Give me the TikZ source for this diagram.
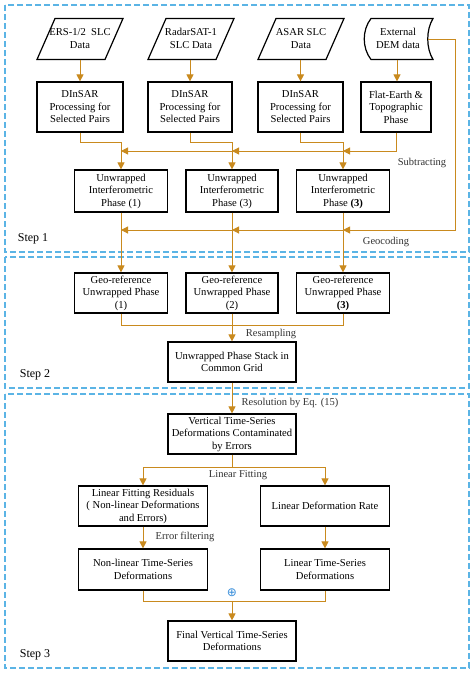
\documentclass[tikz,border=0pt]{standalone}
\usepackage{fontspec}
\setmainfont{Liberation Serif}
\newfontfamily\symfont{DejaVu Sans}
\usetikzlibrary{arrows.meta}
\definecolor{arrc}{HTML}{C98A1E}
\definecolor{dashc}{HTML}{5BB4E5}
\definecolor{plusc}{HTML}{3A8FDB}
\tikzset{
  box/.style={draw=black, line width=1.2pt, fill=white, align=center, inner sep=1pt,
    font=\fontsize{10.6}{12.5}\selectfont},
  plain/.style={align=center, inner sep=1pt, font=\fontsize{10.6}{12.5}\selectfont},
  lab/.style={inner sep=1pt, font=\fontsize{10.5}{12.5}\selectfont, text=black!80},
  steplab/.style={inner sep=1pt, font=\fontsize{12}{14}\selectfont},
  conn/.style={draw=arrc, line width=1pt},
  arr/.style={conn, -{Triangle[length=7pt,width=7pt]}},
  stepframe/.style={draw=dashc, line width=1.5pt, dash pattern=on 6pt off 3pt},
}
\begin{document}
\begin{tikzpicture}[x=1pt,y=-1pt]
\fill[white] (0,0) rectangle (474,673);
\useasboundingbox (0,0) rectangle (474,673);

% step frames
\draw[stepframe] (5,5) rectangle (469,252);
\draw[stepframe] (5,257) rectangle (469,388);
\draw[stepframe] (5,394) rectangle (469,668);
\node[steplab] (st1) at (33,239) {Step 1};
\node[steplab] (st2) at (35,375) {Step 2};
\node[steplab] (st3) at (35,655) {Step 3};

% input parallelograms
\node[plain] (p1) at (80,38.5) {ERS-1/2\ \ SLC\\Data};
\node[plain] (p2) at (191,38.5) {RadarSAT-1\\SLC Data};
\node[plain] (p3) at (301,38.5) {ASAR SLC\\Data};
\draw[black, line width=1.2pt] (55,18.5) -- (123,18.5) -- (105,59.5) -- (37,59.5) -- cycle;
\draw[black, line width=1.2pt] (166,18.5) -- (234,18.5) -- (216,59.5) -- (148,59.5) -- cycle;
\draw[black, line width=1.2pt] (276,18.5) -- (344,18.5) -- (326,59.5) -- (258,59.5) -- cycle;
% stored data (DEM)
\node[plain] (dem) at (398,38.5) {External\\DEM data};
\draw[black, line width=1.2pt] (371,18.5) -- (433,18.5)
   .. controls (426,30) and (426,48) .. (433,59.5) -- (371,59.5)
   .. controls (362,48) and (362,30) .. (371,18.5) -- cycle;
\coordinate (demb) at (397,59.5);
\coordinate (demr) at (428,39);

% DInSAR row
\node[box, minimum width=86pt, minimum height=50pt] (d1) at (80,107) {DInSAR\\Processing for\\Selected Pairs};
\node[box, minimum width=84pt, minimum height=50pt] (d2) at (190,107) {DInSAR\\Processing for\\Selected Pairs};
\node[box, minimum width=85pt, minimum height=50pt] (d3) at (300.5,107) {DInSAR\\Processing for\\Selected Pairs};
\node[box, minimum width=70pt, minimum height=50pt] (d4) at (396,107) {Flat-Earth \&\\Topographic\\Phase};

\coordinate (p1b) at (80,59.5);
\coordinate (p2b) at (190,59.5);
\coordinate (p3b) at (300.5,59.5);
\draw[arr] (p1b) -- (d1.north);
\draw[arr] (p2b) -- (d2.north);
\draw[arr] (p3b) -- (d3.north);
\draw[arr] (demb) -- (d4.north -| demb);

% Unwrapped row
\node[box, minimum width=93pt, minimum height=42pt] (u1) at (121,191) {Unwrapped\\Interferometric\\Phase (1)};
\node[box, minimum width=92pt, minimum height=42pt] (u2) at (232,191) {Unwrapped\\Interferometric\\Phase (3)};
\node[box, minimum width=93pt, minimum height=42pt] (u3) at (343,191) {Unwrapped\\Interferometric\\Phase \textbf{(3)}};

\draw[arr] (d1.south) -- ++(0,10) -| (u1.north);
\draw[arr] (d2.south) -- ++(0,10) -| (u2.north);
\draw[arr] (d3.south) -- ++(0,10) -| (u3.north);

\coordinate (s1) at (121,151);
\coordinate (s2) at (232,151);
\coordinate (s3) at (343,151);
\draw[arr] (d4.south) |- (s3);
\draw[arr] (s3) -- (s2);
\draw[arr] (s2) -- (s1);
\node[lab] (subl) at (422,163) {Subtracting};

% Geocoding
\coordinate (gc0) at (455,39);
\coordinate (gc1) at (121,230);
\coordinate (gc2) at (232,230);
\coordinate (gc3) at (343,230);
\draw[arr] (demr) -- (gc0) |- (gc3);
\draw[arr] (gc3) -- (gc2);
\draw[arr] (gc2) -- (gc1);
\node[lab] (geol) at (386,242) {Geocoding};

% Geo-reference row
\node[box, minimum width=93pt, minimum height=40pt] (g1) at (121,293) {Geo-reference\\Unwrapped Phase\\(1)};
\node[box, minimum width=92pt, minimum height=40pt] (g2) at (232,293) {Geo-reference\\Unwrapped Phase\\(2)};
\node[box, minimum width=93pt, minimum height=40pt] (g3) at (343,293) {Geo-reference\\Unwrapped Phase\\\textbf{(3)}};
\draw[arr] (u1.south) -- (g1.north);
\draw[arr] (u2.south) -- (g2.north);
\draw[arr] (u3.south) -- (g3.north);

% stack
\node[box, minimum width=128pt, minimum height=40pt] (stack) at (232,362) {Unwrapped Phase Stack in\\Common Grid};
\coordinate (rs) at (232,325);
\draw[conn] (g1.south) |- (rs);
\draw[conn] (g3.south) |- (rs);
\draw[arr] (g2.south) -- (stack.north);
\node[lab] (resl) at (271,334) {Resampling};

% step 3
\node[box, minimum width=128pt, minimum height=40pt] (vert) at (232,434) {Vertical Time-Series\\Deformations Contaminated\\by Errors};
\draw[arr] (stack.south) -- (vert.north);
\node[lab] (eql) at (290,403) {Resolution by Eq. (15)};

\node[box, minimum width=129pt, minimum height=40pt] (res) at (143,506) {Linear Fitting Residuals\\( Non-linear Deformations\\and Errors)};
\node[box, minimum width=129pt, minimum height=40pt] (rate) at (325,506) {Linear Deformation Rate};
\coordinate (lf) at (232,467);
\draw[conn] (vert.south) -- (lf);
\draw[arr] (lf) -| (res.north);
\draw[arr] (lf) -| (rate.north);
\node[lab] (lfl) at (238,475) {Linear Fitting};

\node[box, minimum width=129pt, minimum height=41pt] (nl) at (143,569.5) {Non-linear Time-Series\\Deformations};
\node[box, minimum width=129pt, minimum height=41pt] (lts) at (325,569.5) {Linear Time-Series\\Deformations};
\draw[arr] (res.south) -- (nl.north);
\draw[arr] (rate.south) -- (lts.north);
\node[lab] (efl) at (185,537) {Error filtering};

\node[box, minimum width=128pt, minimum height=40pt] (fin) at (232,641) {Final Vertical Time-Series\\Deformations};
\coordinate (jn) at (232,601);
\draw[conn] (nl.south) |- (jn);
\draw[conn] (lts.south) |- (jn);
\draw[arr] (jn) -- (fin.north);
\node[inner sep=0pt, text=plusc, font=\symfont\fontsize{12}{12}\selectfont] (plus) at (232,592.5) {⊕};
\end{tikzpicture}
\end{document}
